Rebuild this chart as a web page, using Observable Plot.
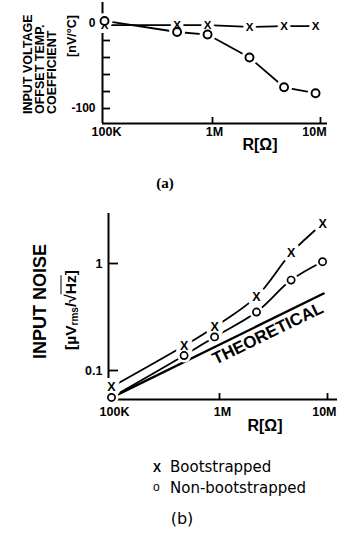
<!DOCTYPE html>
<html><head><meta charset="utf-8">
<script src="https://cdn.jsdelivr.net/npm/d3@7"></script>
<script src="https://cdn.jsdelivr.net/npm/@observablehq/plot@0.6"></script>
<style>
html,body{margin:0;padding:0;background:#fff;}
#root{position:relative;width:337px;height:533px;overflow:hidden;color:#000;font-family:"Liberation Sans",Arial,sans-serif;}
#root svg{position:absolute;left:0;overflow:visible;background:transparent;}
.cap{position:absolute;white-space:nowrap;}
</style></head><body><div id="root"></div>
<script>
// ---- data ----
const resistance = [1e5, 4.7e5, 9e5, 2.2e6, 4.6e6, 9e6];
const tcBoot = [-2, -2, -2, -4, -3, -3];
const tcNonBoot = [3, -10, -13, -40, -75, -82];
const noiseBoot = [0.07, 0.17, 0.255, 0.49, 1.25, 2.35];
const noiseNonBoot = [0.056, 0.138, 0.206, 0.352, 0.70, 1.04];
const theoreticalR = [1e5, 9.2e6];
const theoreticalNoise = [0.0557, 0.524];
const xTicks = [1e5, 1e6, 1e7];
const xTickLabels = ["100K", "1M", "10M"];
const tcTicks = [0, -20, -40, -60, -80, -100];
const tcLabelTicks = [0, -100];
const noiseTicks = [0.1, 1];
const noiseTickLabels = ["0.1", "1"];
const seriesNames = ["Bootstrapped", "Non-bootstrapped"];
const seriesMarks = ["X", "o"];
const xTitle = "R[Ω]";
const yTitleA = ["INPUT VOLTAGE", "OFFSET TEMP.", "COEFFICIENT"];
const yUnitA = "[nV/°C]";
const yTitleB = "INPUT NOISE";
const theoryLabel = [{r: 2.8e6, v: 0.222, text: "THEORETICAL"}];

const xDomainA = [9.58e4, 1.161e7];
const yDomainA = [-117.6, 24.7];
const xDomainB = [9.38e4, 1.2376e7];
const yDomainB = [0.05358, 2.933];

const tcData = resistance.map((r, i) => ({r, boot: tcBoot[i], non: tcNonBoot[i]}));
const noiseData = resistance.map((r, i) => ({r, boot: noiseBoot[i], non: noiseNonBoot[i]}));
const theoryData = theoreticalR.map((r, i) => ({r, v: theoreticalNoise[i]}));
const fmtX = d => xTickLabels[xTicks.indexOf(d)];
const font = "Liberation Sans, Arial, sans-serif";

const root = document.getElementById("root");

// ---- panel (a) ----
const plotA = Plot.plot({
  width: 337, height: 160,
  marginTop: 2, marginBottom: 37, marginLeft: 102, marginRight: 10,
  x: {type: "log", domain: xDomainA},
  y: {domain: yDomainA},
  style: {fontFamily: font, fontWeight: "bold", fontSize: "12px", background: "transparent"},
  marks: [
    Plot.ruleX([xDomainA[0]], {strokeWidth: 2}),
    Plot.ruleY([yDomainA[0]], {strokeWidth: 2}),
    Plot.axisY({ticks: tcTicks, anchor: "right", frameAnchor: "left", tickSize: 7, fill: "none", strokeWidth: 1.8, label: null}),
    Plot.axisY({ticks: tcLabelTicks, tickSize: 0, tickPadding: 7, tickFormat: d => String(d), label: null, fontSize: 12}),
    Plot.axisX({ticks: xTicks.slice(1), anchor: "top", frameAnchor: "bottom", tickSize: 7, fill: "none", strokeWidth: 1.8, label: null}),
    Plot.axisX({ticks: xTicks.slice(0, 2), tickSize: 0, tickPadding: 4, tickFormat: fmtX, label: null, fontSize: 12.5, dx: 2}),
    Plot.axisX({ticks: xTicks.slice(2), tickSize: 0, tickPadding: 4, tickFormat: fmtX, label: null, fontSize: 12.5, dx: -6}),
    Plot.line(tcData, {x: "r", y: "non", strokeWidth: 1.8}),
    Plot.line(tcData, {x: "r", y: "boot", strokeWidth: 1.8}),
    Plot.dot(tcData, {x: "r", y: "non", r: 8, fill: "white"}),
    Plot.text(tcData, {x: "r", y: "boot", text: () => seriesMarks[0], fontSize: 11.5, fontWeight: "bold", fill: "black", stroke: "white", strokeWidth: 8}),
    Plot.dot(tcData, {x: "r", y: "non", r: 4, fill: "white", stroke: "black", strokeWidth: 1.9}),
    Plot.text([xTitle], {text: d => d, frameAnchor: "bottom", dx: 45, dy: 26, fontSize: 16, fontWeight: "bold"})
  ]
});
plotA.style.top = "0px";
root.appendChild(plotA);

// ---- panel (b) ----
const plotB = Plot.plot({
  width: 337, height: 245,
  marginTop: 13, marginBottom: 46, marginLeft: 108, marginRight: 0,
  x: {type: "log", domain: xDomainB},
  y: {type: "log", domain: yDomainB},
  style: {fontFamily: font, fontWeight: "bold", fontSize: "12px", background: "transparent"},
  marks: [
    Plot.ruleX([xDomainB[0]], {strokeWidth: 2}),
    Plot.ruleY([yDomainB[0]], {strokeWidth: 2}),
    Plot.axisY({ticks: noiseTicks, anchor: "right", frameAnchor: "left", tickSize: 9, fill: "none", strokeWidth: 1.8, label: null}),
    Plot.axisY({ticks: noiseTicks, tickSize: 0, tickPadding: 6, tickFormat: d => noiseTickLabels[noiseTicks.indexOf(d)], label: null, fontSize: 12.5}),
    Plot.axisX({ticks: xTicks.slice(1), anchor: "top", frameAnchor: "bottom", tickSize: 7, fill: "none", strokeWidth: 1.8, label: null}),
    Plot.axisX({ticks: xTicks.slice(0, 2), tickSize: 0, tickPadding: 8, tickFormat: fmtX, label: null, fontSize: 12.5, dx: 3}),
    Plot.axisX({ticks: xTicks.slice(2), tickSize: 0, tickPadding: 8, tickFormat: fmtX, label: null, fontSize: 12.5, textAnchor: "end", dx: 9}),
    Plot.line(theoryData, {x: "r", y: "v", strokeWidth: 2.4}),
    Plot.line(noiseData, {x: "r", y: "non", strokeWidth: 1.8, curve: "catmull-rom"}),
    Plot.line(noiseData, {x: "r", y: "boot", strokeWidth: 1.8, curve: "catmull-rom"}),
    Plot.dot(noiseData, {x: "r", y: "non", r: 7, fill: "white"}),
    Plot.text(noiseData, {x: "r", y: "boot", text: () => seriesMarks[0], fontSize: 12.5, fontWeight: "bold", fill: "black", stroke: "white", strokeWidth: 8}),
    Plot.dot(noiseData, {x: "r", y: "non", r: 3.6, fill: "white", stroke: "black", strokeWidth: 1.7}),
    Plot.text(theoryLabel, {x: "r", y: "v", text: "text", rotate: -26, fontSize: 17, fontWeight: "bold"}),
    Plot.text([yTitleB], {text: d => d, frameAnchor: "left", rotate: -90, textAnchor: "middle", dx: -68, dy: -5, fontSize: 18, fontWeight: "bold"}),
    Plot.text([xTitle], {text: d => d, frameAnchor: "bottom", dx: 42, dy: 31, fontSize: 16, fontWeight: "bold"})
  ]
});
plotB.style.top = "200px";
root.appendChild(plotB);

// ---- HTML captions ----
function addCap(html, css) {
  const d = document.createElement("div");
  d.className = "cap";
  d.innerHTML = html;
  Object.assign(d.style, css);
  root.appendChild(d);
  return d;
}
// panel (a) rotated y title: columns read bottom-to-top
addCap(yTitleA.join("<br>"), {left: "22px", top: "114px", transformOrigin: "0 0", transform: "rotate(-90deg)", fontWeight: "bold", fontSize: "12.5px", lineHeight: "12px"});
addCap(yUnitA, {left: "72px", top: "36px", transform: "translate(-50%,-50%) rotate(-90deg)", fontWeight: "bold", fontSize: "12.5px", lineHeight: "14px"});
addCap("(a)", {left: "165px", top: "183px", transform: "translate(-50%,-50%)", fontFamily: "Liberation Serif, Times New Roman, serif", fontWeight: "bold", fontSize: "15px"});
addCap('[&micro;V<sub style="font-size:10px;vertical-align:-2px">rms</sub>/&radic;<span style="text-decoration:overline">Hz</span>]',
  {left: "72px", top: "310px", transform: "translate(-50%,-50%) rotate(-90deg)", fontWeight: "bold", fontSize: "15.5px", lineHeight: "17px"});
const legend = addCap("", {left: "153px", top: "458px", fontFamily: "DejaVu Sans, sans-serif", fontSize: "15px", lineHeight: "19px"});
seriesNames.forEach((name, i) => {
  const row = document.createElement("div");
  const mk = i === 0
    ? '<span style="font-family:Liberation Sans,Arial;font-weight:bold;font-size:12px;display:inline-block;width:17px">' + seriesMarks[i] + '</span>'
    : '<span style="font-family:Liberation Sans,Arial;font-size:12px;display:inline-block;width:17px;vertical-align:2px">' + seriesMarks[i] + '</span>';
  row.innerHTML = mk + name;
  legend.appendChild(row);
});
addCap("(b)", {left: "182px", top: "518px", transform: "translate(-50%,-50%)", fontFamily: "DejaVu Sans, sans-serif", fontSize: "16px"});
</script>
</body></html>
